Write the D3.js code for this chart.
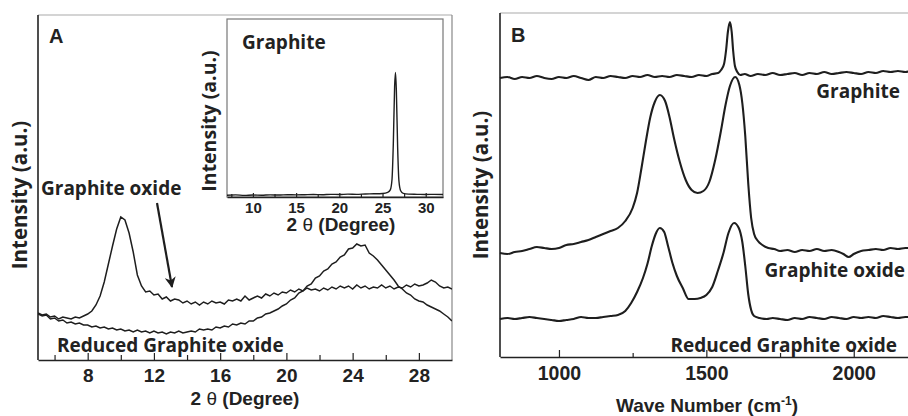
<!DOCTYPE html>
<html>
<head>
<meta charset="utf-8">
<script src="https://cdn.jsdelivr.net/npm/d3@7"></script>
<style>
  body { margin: 0; background: #fff; }
  .lbl { font-family: "Open Sans", sans-serif; font-weight: 700; fill: #222; }
  .num { font-family: "Liberation Sans", Arial, sans-serif; font-weight: 700; fill: #222; }
</style>
</head>
<body>
<svg id="chart" width="908" height="416"></svg>
<script>
// ---- data ----
// XRD, panel A (2 theta grid every 0.25 deg, intensity in a.u.)
var thetaA = d3.range(5, 30.001, 0.25);
var xrdGO = [
  47,45,46,43, 44,41,43,42, 41,43,42,44, 46,49,55,64, 78,96,114,131,
  143,140,127,108, 85,74,68,69, 65,66,61,63, 59,61,60,57, 59,56,58,55,
  58,56,59,57, 58,56,60,59, 61,59,64,60, 62,64,62,66, 64,67,65,68,
  67,70,68,71, 69,72,70,71, 69,72,70,73, 71,74,72,74, 71,75,72,74,
  71,73,72,75, 72,74,71,73, 72,75,73,76, 74,75,77,80, 78,74,72,73, 71
];
var xrdRGO = [
  46,44,45,41, 42,39,40,37, 38,36,37,35, 35,33,34,32, 33,31,32,30,
  31,29,30,28, 30,28,29,27, 29,27,28,26, 28,27,29,27, 28,29,28,31,
  30,31,30,33, 32,34,33,36, 35,37,36,39, 39,42,43,46, 47,49,51,54,
  56,60,62,67, 69,74,76,82, 84,89,91,96, 98,103,105,111, 112,116,114,115,
  107,104,100,95, 90,85,80,74, 71,67,65,61, 59,58,55,53, 51,49,46,43, 39
];
// inset: graphite XRD [2theta, intensity]
var xrdGraphite = [
  [7,1],[8,1.2],[9,0.9],[10,1.1],[11,1],[12,1.2],[13,1.1],[14,1.3],[15,1.2],[16,1.3],
  [17,1.4],[18,1.3],[19,1.5],[20,1.4],[21,1.6],[22,1.5],[23,1.7],[24,1.8],[25,2],
  [25.6,2.6],[25.9,4],[26.1,10],[26.25,30],[26.4,62],[26.5,70],[26.6,60],[26.75,28],
  [26.9,9],[27.1,3.5],[27.4,2],[28,1.6],[29,1.5],[30,1.4],[31,1.5],[32,1.4]
];
// Raman, panel B [wave number, intensity]
var ramanGraphite = [
  [800,279],[825,280],[850,278],[875,280],[900,279],[925,281],[950,279],[975,278],[1000,280],
  [1025,279],[1050,281],[1075,279],[1100,277],[1125,280],[1150,279],[1175,281],[1200,280],
  [1225,279],[1250,281],[1275,280],[1300,282],[1325,280],[1350,281],[1375,280],[1400,282],
  [1425,281],[1450,280],[1475,282],[1500,281],[1520,283],[1540,284],[1550,287],[1560,293],
  [1567,307],[1573,325],[1580,335],[1586,325],[1591,306],[1597,291],[1605,285],[1615,282],
  [1630,283],[1650,281],[1675,283],[1700,282],[1725,284],[1750,282],[1775,283],[1800,284],
  [1825,282],[1850,284],[1875,283],[1900,285],[1925,283],[1950,284],[1975,285],[2000,284],
  [2025,283],[2050,285],[2075,284],[2100,286],[2125,285],[2150,286],[2175,285],[2200,287]
];
var ramanGO = [
  [800,104],[825,103],[850,105],[875,106],[900,108],[925,110],[950,109],[975,108],[1000,109],
  [1025,112],[1050,113],[1075,115],[1100,117],[1125,120],[1150,123],[1175,126],[1200,129],
  [1225,136],[1250,149],[1265,164],[1280,189],[1295,216],[1310,240],[1325,255],[1342,262],
  [1360,256],[1375,240],[1390,219],[1410,195],[1430,177],[1450,167],[1470,164],[1490,166],
  [1510,175],[1530,197],[1550,227],[1565,252],[1580,271],[1598,280],[1612,272],[1622,254],
  [1632,221],[1642,174],[1652,139],[1662,123],[1675,116],[1690,112],[1710,109],[1730,108],
  [1750,106],[1775,107],[1800,105],[1825,107],[1850,106],[1875,108],[1900,106],[1925,107],
  [1950,105],[1965,103],[1983,100],[2000,103],[2025,106],[2050,107],[2075,108],[2100,107],
  [2125,109],[2150,108],[2175,109],[2200,109]
];
var ramanRGO = [
  [800,38],[825,39],[850,38],[875,39],[900,40],[925,39],[950,38],[975,37],[1000,36],
  [1025,37],[1050,38],[1075,40],[1100,39],[1125,39],[1150,40],[1175,41],[1200,42],
  [1225,46],[1245,54],[1265,65],[1285,79],[1300,93],[1315,111],[1328,123],[1342,129],
  [1357,125],[1370,111],[1385,94],[1400,81],[1420,69],[1440,58],[1460,58],[1480,59],
  [1500,62],[1520,70],[1540,87],[1558,104],[1575,124],[1594,134],[1610,129],[1622,115],
  [1632,91],[1642,63],[1652,47],[1662,41],[1680,39],[1705,38],[1725,39],[1750,38],
  [1775,37],[1800,39],[1825,38],[1850,40],[1875,39],[1900,38],[1925,40],[1950,39],
  [1975,38],[2000,40],[2025,39],[2050,40],[2075,39],[2100,41],[2125,40],[2150,39],
  [2175,40],[2200,40]
];
// ticks
var ticksA = [8, 12, 16, 20, 24, 28], minorA = [6, 10, 14, 18, 22, 26];
var ticksInset = [10, 15, 20, 25, 30], minorInset = [7.5, 12.5, 17.5, 22.5, 27.5];
var ticksB = [1000, 1500, 2000], minorB = [1250, 1750];

var svg = d3.select('#chart');

function drawAxis(g, x, major, minor, bottom, majLen, minLen, fontSize, labelDy) {
  g.append('g')
    .attr('transform', 'translate(0,' + bottom + ')')
    .call(d3.axisBottom(x).tickValues(minor).tickSize(-minLen).tickFormat(''))
    .call(function (a) { a.select('.domain').remove(); a.selectAll('line').attr('stroke', '#222').attr('stroke-width', 1.2); });
  var ax = g.append('g')
    .attr('transform', 'translate(0,' + bottom + ')')
    .call(d3.axisBottom(x).tickValues(major).tickSize(-majLen).tickSizeOuter(0)
      .tickPadding(labelDy).tickFormat(d3.format('d')));
  ax.select('.domain').attr('stroke', '#222').attr('stroke-width', 1.6);
  ax.selectAll('line').attr('stroke', '#222').attr('stroke-width', 1.2);
  ax.selectAll('text').attr('class', 'num').style('font-size', fontSize + 'px')
    .attr('dy', '0.71em');
}

// ================= panel A =================
var A = { l: 38, r: 452, t: 15, b: 360 };
var xA = d3.scaleLinear().domain([5, 30]).range([A.l, A.r]);
var yA = d3.scaleLinear().domain([0, 345]).range([A.b, A.t]);
var gA = svg.append('g');

gA.append('clipPath').attr('id', 'clipA').append('rect')
  .attr('x', A.l).attr('y', A.t).attr('width', A.r - A.l).attr('height', A.b - A.t);

// frame: top/right light grey, left/bottom black
gA.append('line').attr('x1', A.l).attr('x2', A.r).attr('y1', A.t).attr('y2', A.t).attr('stroke', '#aaa').attr('stroke-width', 1.2);
gA.append('line').attr('x1', A.r).attr('x2', A.r).attr('y1', A.t).attr('y2', A.b).attr('stroke', '#888').attr('stroke-width', 1.2);
gA.append('line').attr('x1', A.l).attr('x2', A.l).attr('y1', A.t).attr('y2', A.b).attr('stroke', '#222').attr('stroke-width', 1.6);

var lineA = d3.line().x(function (d, i) { return xA(thetaA[i]); }).y(function (d) { return yA(d); });
gA.append('path').datum(xrdGO).attr('clip-path', 'url(#clipA)')
  .attr('d', lineA).attr('fill', 'none').attr('stroke', '#1e1e1e').attr('stroke-width', 1.5);
gA.append('path').datum(xrdRGO).attr('clip-path', 'url(#clipA)')
  .attr('d', lineA).attr('fill', 'none').attr('stroke', '#1e1e1e').attr('stroke-width', 1.5);

drawAxis(gA, xA, ticksA, minorA, A.b, 7, 5, 19, 9);

gA.append('text').attr('class', 'num').attr('x', 245).attr('y', 405)
  .attr('text-anchor', 'middle').style('font-size', '19px')
  .html('2 <tspan style="font-weight:400">θ</tspan> (Degree)');
gA.append('text').attr('class', 'lbl').attr('transform', 'translate(27,195) rotate(-90)')
  .attr('text-anchor', 'middle').style('font-size', '20.5px').text('Intensity (a.u.)');
gA.append('text').attr('class', 'num').attr('x', 49).attr('y', 43).style('font-size', '20px').text('A');
gA.append('text').attr('class', 'lbl').attr('x', 41).attr('y', 195).style('font-size', '19px').text('Graphite oxide');
gA.append('text').attr('class', 'lbl').attr('x', 57).attr('y', 352).style('font-size', '19px').text('Reduced Graphite oxide');

// arrow
svg.append('defs').append('marker').attr('id', 'arrow')
  .attr('viewBox', '0 0 10 10').attr('refX', 9).attr('refY', 5)
  .attr('markerWidth', 5).attr('markerHeight', 5).attr('orient', 'auto')
  .append('path').attr('d', 'M0,0 L10,5 L0,10 L3,5 Z').attr('fill', '#1e1e1e');
gA.append('line').attr('x1', 157).attr('y1', 203).attr('x2', 172).attr('y2', 287)
  .attr('stroke', '#1e1e1e').attr('stroke-width', 2.2).attr('marker-end', 'url(#arrow)');

// inset
var I = { l: 227, r: 443, t: 19, b: 197 };
var xI = d3.scaleLinear().domain([7, 32]).range([I.l, I.r]);
var yI = d3.scaleLinear().domain([0, 100]).range([I.b, I.t]);
var gI = svg.append('g');
gI.append('rect').attr('x', I.l).attr('y', I.t).attr('width', I.r - I.l).attr('height', I.b - I.t)
  .attr('fill', '#fff').attr('stroke', '#777').attr('stroke-width', 1.2);
gI.append('path').datum(xrdGraphite)
  .attr('d', d3.line().curve(d3.curveMonotoneX).x(function (d) { return xI(d[0]); }).y(function (d) { return yI(d[1]); }))
  .attr('fill', 'none').attr('stroke', '#1e1e1e').attr('stroke-width', 1.4);
drawAxis(gI, xI, ticksInset, minorInset, I.b, 4, 3, 15, 5);
gI.append('text').attr('class', 'num').attr('x', 341).attr('y', 231)
  .attr('text-anchor', 'middle').style('font-size', '19px')
  .html('2 <tspan style="font-weight:400">θ</tspan> (Degree)');
gI.append('text').attr('class', 'lbl').attr('transform', 'translate(216,121) rotate(-90)')
  .attr('text-anchor', 'middle').style('font-size', '19.5px').text('Intensity (a.u.)');
gI.append('text').attr('class', 'lbl').attr('x', 242).attr('y', 49).style('font-size', '19px').text('Graphite');

// ================= panel B =================
var B = { l: 500, r: 912.7, t: 13, b: 357 };
var xB = d3.scaleLinear().domain([800, 2200]).range([B.l, B.r]);
var yB = d3.scaleLinear().domain([0, 344]).range([B.b, B.t]);
var gB = svg.append('g');
gB.append('line').attr('x1', B.l).attr('x2', B.r).attr('y1', B.t).attr('y2', B.t).attr('stroke', '#aaa').attr('stroke-width', 1.2);
gB.append('line').attr('x1', B.l).attr('x2', B.l).attr('y1', B.t).attr('y2', B.b).attr('stroke', '#222').attr('stroke-width', 1.6);

var lineB = d3.line().curve(d3.curveMonotoneX).x(function (d) { return xB(d[0]); }).y(function (d) { return yB(d[1]); });
[ramanGraphite, ramanGO, ramanRGO].forEach(function (s) {
  gB.append('path').datum(s).attr('d', lineB)
    .attr('fill', 'none').attr('stroke', '#1e1e1e').attr('stroke-width', 2.1);
});

drawAxis(gB, xB, ticksB, minorB, B.b, 7, 4, 19.5, 9);

gB.append('text').attr('class', 'num').attr('x', 707).attr('y', 412)
  .attr('text-anchor', 'middle').style('font-size', '19px')
  .html('Wave Number (cm<tspan dy="-7" style="font-size:12px">-1</tspan><tspan dy="7">)</tspan>');
gB.append('text').attr('class', 'lbl').attr('transform', 'translate(488,185) rotate(-90)')
  .attr('text-anchor', 'middle').style('font-size', '20.5px').text('Intensity (a.u.)');
gB.append('text').attr('class', 'num').attr('x', 511).attr('y', 42).style('font-size', '20px').text('B');
gB.append('text').attr('class', 'lbl').attr('x', 900).attr('y', 98).attr('text-anchor', 'end').style('font-size', '19px').text('Graphite');
gB.append('text').attr('class', 'lbl').attr('x', 905).attr('y', 277).attr('text-anchor', 'end').style('font-size', '19px').text('Graphite oxide');
gB.append('text').attr('class', 'lbl').attr('x', 897).attr('y', 352).attr('text-anchor', 'end').style('font-size', '19px').text('Reduced Graphite oxide');
</script>
</body>
</html>
